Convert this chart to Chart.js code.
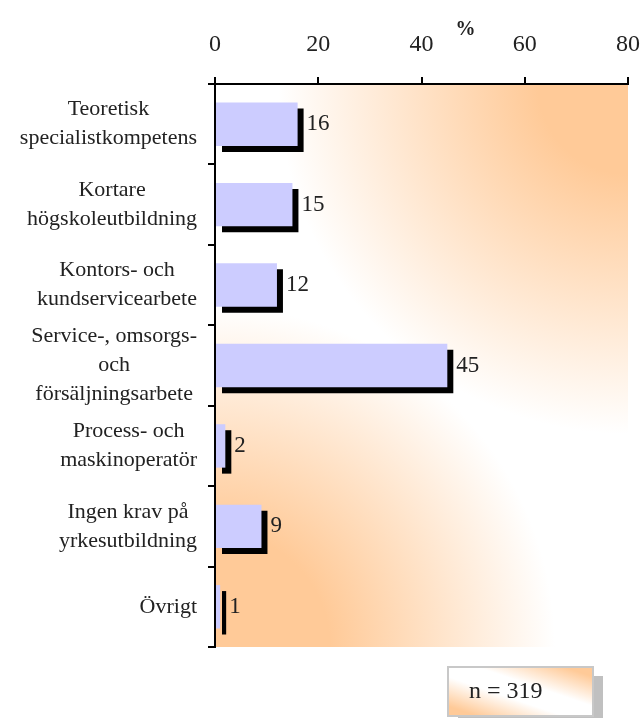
<!DOCTYPE html>
<html>
<head>
<meta charset="utf-8">
<script src="https://cdn.jsdelivr.net/npm/chart.js@4.4.0/dist/chart.umd.min.js"></script>
<style>
  body { margin: 0; background: #fff; }
  canvas { display: block; }
</style>
</head>
<body>
<canvas id="chart" width="643" height="718"></canvas>
<script>
const categories = [
    ["Teoretisk", "specialistkompetens"],
    ["Kortare", "högskoleutbildning"],
    ["Kontors- och", "kundservicearbete"],
    ["Service-, omsorgs-", "och", "försäljningsarbete"],
    ["Process- och", "maskinoperatör"],
    ["Ingen krav på", "yrkesutbildning"],
    ["Övrigt"]
];
const values = [16, 15, 12, 45, 2, 9, 1];
const xTicks = [0, 20, 40, 60, 80];
const nLabel = "n = 319";

const SERIF = "'Liberation Serif', 'DejaVu Serif', serif";
const ORANGE = "rgb(255,202,152)";
const ORANGE_0 = "rgba(255,202,152,0)";

// small box: orange in the top-right and bottom-left corners, white along the diagonal
function diagGradient(ctx, l, t, r, b) {
    const w = r - l, h = b - t;
    const d = Math.sqrt(w * w + h * h);
    const nx = h / d, ny = -w / d;
    const L = w * h / d;
    const cx = l + w / 2, cy = t + h / 2;
    const g = ctx.createLinearGradient(cx - nx * L, cy - ny * L, cx + nx * L, cy + ny * L);
    g.addColorStop(0, ORANGE);
    g.addColorStop(0.1, ORANGE);
    g.addColorStop(0.4, "#ffffff");
    g.addColorStop(0.6, "#ffffff");
    g.addColorStop(0.9, ORANGE);
    g.addColorStop(1, ORANGE);
    return g;
}

function cornerGlow(ctx, x, y, r0, r1) {
    const g = ctx.createRadialGradient(x, y, 0, x, y, r1);
    g.addColorStop(0, ORANGE);
    g.addColorStop(r0 / r1, ORANGE);
    g.addColorStop(1, ORANGE_0);
    return g;
}

// plot area: white with orange glowing from top-right and bottom-left
const bgPlugin = {
    id: "bg",
    beforeDraw(chart) {
        const { ctx, chartArea: a } = chart;
        const w = a.right - a.left, h = a.bottom - a.top;
        ctx.save();
        ctx.fillStyle = "#fff";
        ctx.fillRect(a.left, a.top, w, h);
        ctx.fillStyle = cornerGlow(ctx, a.right, a.top, 90, 350);
        ctx.fillRect(a.left, a.top, w, h);
        ctx.fillStyle = cornerGlow(ctx, a.left, a.bottom, 115, 340);
        ctx.fillRect(a.left, a.top, w, h);
        ctx.restore();
    }
};

// black drop shadow under the bars
const shadowPlugin = {
    id: "barShadow",
    beforeDatasetDraw(chart) {
        const ctx = chart.ctx;
        ctx.save();
        ctx.shadowColor = "#000";
        ctx.shadowOffsetX = 6;
        ctx.shadowOffsetY = 6;
        ctx.shadowBlur = 0;
    },
    afterDatasetDraw(chart) {
        chart.ctx.restore();
    }
};

const textPlugin = {
    id: "texts",
    afterDraw(chart) {
        const ctx = chart.ctx;
        const yScale = chart.scales.y;
        const xScale = chart.scales.x;
        ctx.save();

        // values
        ctx.font = "23px " + SERIF;
        ctx.fillStyle = "#222";
        ctx.textAlign = "left";
        ctx.textBaseline = "middle";
        chart.getDatasetMeta(0).data.forEach((bar, i) => {
            ctx.fillText(String(values[i]), bar.x + 9, bar.y);
        });

        // category labels, each block centred and pushed against the axis
        ctx.font = "22px " + SERIF;
        ctx.textAlign = "center";
        const lh = 29;
        categories.forEach((lines, i) => {
            const cy = yScale.getPixelForValue(i);
            const w = Math.max(...lines.map(s => ctx.measureText(s).width));
            const cx = 197 - w / 2;
            lines.forEach((s, k) => {
                ctx.fillText(s, cx, cy + (k - (lines.length - 1) / 2) * lh);
            });
        });

        // % title
        ctx.font = "bold 20px " + SERIF;
        ctx.fillText("%", xScale.getPixelForValue(48.5), 30);

        // n box
        const bx = 448, by = 667, bw = 145, bh = 49;
        ctx.fillStyle = "#c0c0c0";
        ctx.fillRect(bx + 10, by + 9, bw, bh);
        ctx.fillStyle = diagGradient(ctx, bx, by, bx + bw, by + bh);
        ctx.fillRect(bx, by, bw, bh);
        ctx.strokeStyle = "#c8c8c8";
        ctx.lineWidth = 2;
        ctx.strokeRect(bx, by, bw, bh);
        ctx.fillStyle = "#222";
        ctx.font = "24px " + SERIF;
        ctx.textAlign = "left";
        ctx.fillText(nLabel, bx + 21, by + 25);

        ctx.restore();
    }
};

new Chart(document.getElementById("chart"), {
    type: "bar",
    data: {
        labels: categories,
        datasets: [{
            data: values,
            backgroundColor: "#ccccff",
            borderWidth: 0,
            categoryPercentage: 1,
            barPercentage: 0.54
        }]
    },
    options: {
        indexAxis: "y",
        responsive: false,
        animation: false,
        devicePixelRatio: 1,
        layout: { padding: { top: 0, right: 15, bottom: 71, left: 0 } },
        plugins: {
            legend: { display: false },
            tooltip: { enabled: false }
        },
        scales: {
            x: {
                position: "top",
                min: 0,
                max: 80,
                afterBuildTicks(scale) {
                    scale.ticks = xTicks.map(v => ({ value: v }));
                },
                afterFit(scale) {
                    scale.height = 84;
                    scale.paddingLeft = 0;
                    scale.paddingRight = 0;
                },
                ticks: {
                    color: "#222",
                    padding: 18,
                    maxRotation: 0,
                    font: { family: SERIF, size: 24 }
                },
                grid: {
                    drawOnChartArea: false,
                    color: "#000",
                    lineWidth: 2,
                    tickLength: 7
                },
                border: { color: "#000", width: 2 }
            },
            y: {
                afterFit(scale) { scale.width = 215; },
                ticks: { display: false },
                grid: {
                    offset: true,
                    drawOnChartArea: false,
                    color: "#000",
                    lineWidth: 2,
                    tickLength: 7
                },
                border: { color: "#000", width: 2 }
            }
        }
    },
    plugins: [bgPlugin, shadowPlugin, textPlugin]
});
</script>
</body>
</html>
